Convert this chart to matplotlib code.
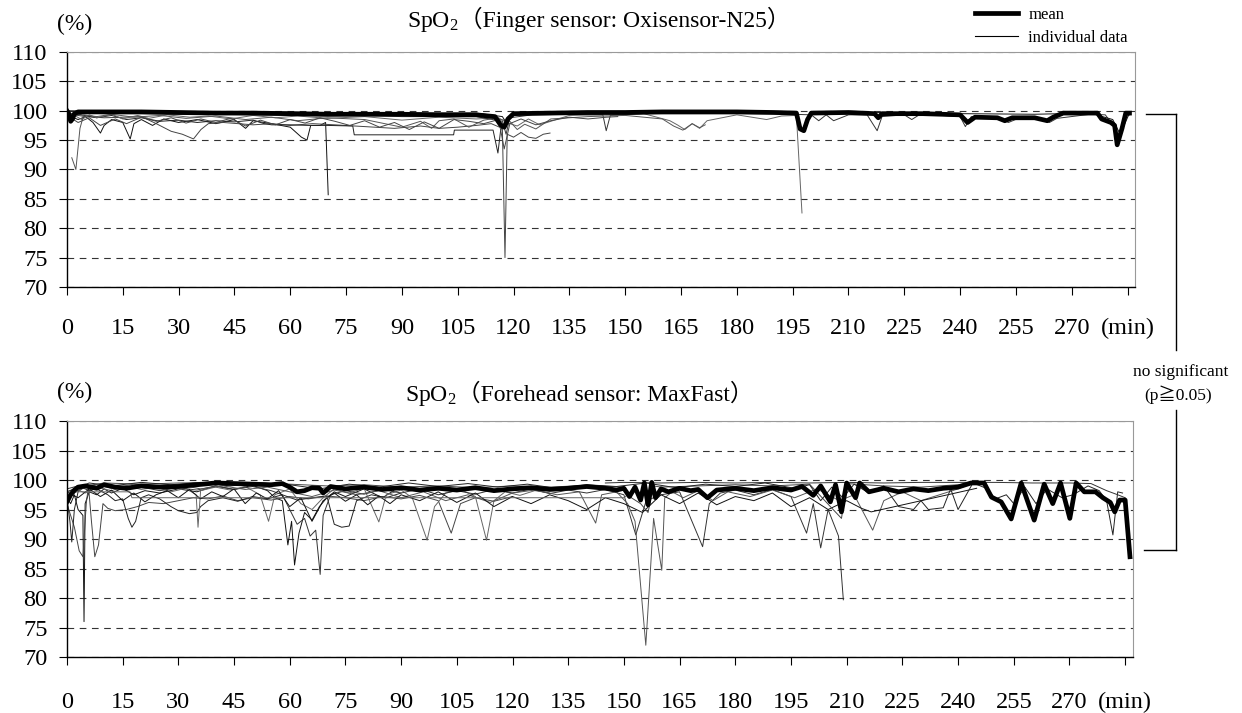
import matplotlib
matplotlib.use("Agg")
import matplotlib.pyplot as plt
from matplotlib.lines import Line2D

plt.rcParams['font.family'] = ['Liberation Serif', 'Noto Sans CJK JP']
plt.rcParams['mathtext.fontset'] = 'custom'
plt.rcParams['mathtext.rm'] = 'Liberation Serif'
plt.rcParams['mathtext.it'] = 'Liberation Serif:italic'

# ---------------- Finger sensor (Oxisensor-N25) ----------------
fin_mean_t = [0, 0.5, 1, 1.5, 2, 3, 5, 10, 20, 30,
              40, 50, 60, 70, 80, 90, 100, 110, 115, 116.5,
              117.5, 118.5, 120, 130, 140, 150, 160, 170, 180, 190,
              196, 197, 198, 199, 200, 210, 217, 218, 219, 230,
              240, 242, 244, 250, 252, 254, 260, 263.4, 265, 267.7,
              272, 276.9, 278, 280.5, 281.5, 282.2, 283.5, 284.5, 285.5]
fin_mean_v = [100, 99.5, 98.2, 98.6, 99.5, 99.8, 99.8, 99.8, 99.8, 99.7,
              99.6, 99.6, 99.5, 99.4, 99.4, 99.4, 99.3, 99.3, 99.0, 97.6,
              97.2, 98.6, 99.5, 99.6, 99.7, 99.7, 99.8, 99.8, 99.8, 99.7,
              99.6, 96.9, 96.6, 98.5, 99.6, 99.7, 99.5, 98.8, 99.5, 99.5,
              99.3, 98.0, 98.9, 98.8, 98.3, 98.8, 98.8, 98.3, 98.9, 99.6,
              99.6, 99.6, 98.6, 98.0, 97.5, 94.2, 97.0, 99.6, 99.6]

fin_t1 = [0, 1, 3, 5, 7, 9, 10, 12, 15, 17, 18, 20, 23, 26, 30, 35, 40, 45, 48, 50,
          55, 60, 63, 64.5, 65.5, 68, 69.5, 70.2]
fin_v1 = [99.5, 99.0, 98.5, 99.0, 98.0, 96.2, 97.5, 98.5, 98.0, 95.2, 97.8, 98.5, 97.5, 98.6,
          98.0, 98.5, 97.8, 98.5, 97.0, 98.3, 97.8, 97.2, 95.5, 95.0, 97.5, 97.5, 98.0, 85.7]

fin_t2 = [0, 2, 5, 10, 15, 20, 24, 28, 31, 34, 36, 38, 42, 46, 50, 55, 60, 66, 72, 80,
          88, 95, 100, 105, 110, 114, 117, 117.7, 118.3, 120, 122, 124, 126, 128, 129.8]
fin_v2 = [99.5, 99.3, 99.0, 98.8, 98.9, 99.0, 97.8, 96.5, 96.0, 95.2, 96.8, 97.8, 98.0, 97.8,
          97.6, 97.8, 97.5, 97.8, 97.6, 97.3, 97.0, 97.4, 97.0, 97.2, 97.5, 97.8, 97.0, 75.0,
          96.0, 95.5, 96.3, 95.5, 95.3, 96.0, 96.2]

fin_t3 = [0, 3, 8, 12, 16, 20, 25, 30, 35, 40, 45, 50, 53, 55, 60, 65, 70, 76.8, 77.2, 85,
          95, 103.9, 104.1, 114.5, 115.8, 116.5, 117]
fin_v3 = [99.6, 99.4, 98.8, 99.2, 98.5, 98.8, 98.2, 98.4, 98.0, 98.3, 98.1, 98.4, 97.8, 97.6,
          97.6, 97.5, 97.5, 97.4, 95.9, 95.9, 95.9, 95.9, 96.7, 96.7, 92.8, 96.5, 97.5]

fin_t4 = [0, 2, 4, 6, 8, 12, 15, 19, 22, 27, 33, 38, 44, 50, 56, 62, 70, 80, 90, 100,
          110, 116, 118, 121, 124, 127, 135, 145, 155, 162, 164, 166, 168, 170, 172, 180,
          188, 192, 196, 197.5]
fin_v4 = [99.8, 99.2, 98.5, 99.3, 98.8, 99.4, 98.6, 99.2, 98.7, 99.3, 98.9, 99.1, 98.6, 99.2,
          98.8, 99.1, 98.7, 99.0, 98.4, 98.9, 98.6, 98.8, 98.0, 97.4, 98.6, 97.6, 99.2, 99.3,
          99.5, 98.3, 97.6, 96.8, 97.8, 97.0, 98.3, 99.3, 98.5, 99.1, 99.2, 82.6]

fin_t5 = [0, 1, 2, 5, 10, 20, 30, 40, 50, 60, 70, 80, 90, 100, 110, 117, 118, 119, 125, 135,
          144, 144.9, 146, 155, 170, 180, 190, 200, 202, 204, 206, 210, 215, 217.7, 219, 225,
          227, 229, 235, 240, 241.4, 243, 250, 253, 256, 262, 264, 266, 275, 279, 281, 282.5,
          284, 285.5]
fin_v5 = [99.7, 98.0, 99.2, 99.6, 99.5, 99.5, 99.4, 99.4, 99.3, 99.2, 99.1, 99.2, 99.0, 99.0,
          99.0, 98.2, 96.0, 98.8, 99.3, 99.4, 99.3, 96.6, 99.2, 99.5, 99.5, 99.5, 99.5, 99.3,
          98.3, 99.3, 98.3, 99.3, 99.3, 96.6, 99.0, 99.3, 98.5, 99.3, 99.2, 99.0, 97.3, 99.0,
          98.8, 98.0, 98.8, 98.6, 98.0, 98.7, 99.4, 99.3, 97.6, 95.5, 98.8, 99.3]

fin_t6 = [1.3, 2.4, 3.5, 4.5, 8, 12, 18, 25, 32, 40, 48, 55, 62, 70, 80, 90, 95, 98, 100, 104,
          108, 112, 115, 119, 121, 123, 126, 130, 140, 150, 160, 163, 165.5, 168, 170, 171.5]
fin_v6 = [92.0, 90.0, 97.0, 99.3, 99.0, 99.4, 98.9, 99.2, 98.7, 99.1, 98.5, 98.9, 98.3, 98.8,
          98.5, 97.2, 98.2, 97.0, 98.3, 98.6, 97.2, 98.4, 98.7, 98.2, 96.8, 97.7, 96.9, 98.6,
          99.0, 99.2, 98.6, 97.4, 96.7, 97.8, 97.1, 97.6]

fin_t7 = [0, 10, 30, 50, 70, 90, 110, 117, 118, 120, 140, 160, 180, 196, 197, 198, 200, 220,
          240, 260, 275, 281, 283, 285.5]
fin_v7 = [100, 99.9, 99.8, 99.8, 99.7, 99.6, 99.6, 99.0, 98.0, 99.6, 99.7, 99.8, 99.7, 99.6,
          97.5, 96.4, 99.6, 99.7, 99.5, 99.4, 99.6, 98.5, 96.0, 99.6]

fin_t8 = [0, 3, 6, 9, 13, 16, 20, 24, 28, 32, 36, 40, 44, 48, 52, 56, 60, 64, 68, 72,
          76, 80, 84, 88, 92, 96, 100, 104, 108, 112, 116, 117.5, 119, 122, 126, 130, 135,
          140, 145, 148]
fin_v8 = [99.2, 98.0, 98.8, 97.5, 98.6, 97.8, 98.9, 98.2, 98.8, 97.9, 98.6, 98.0, 98.7, 97.4,
          98.4, 97.6, 98.5, 97.9, 98.8, 98.2, 97.5, 98.3, 97.2, 98.0, 96.8, 98.1, 97.0, 98.5,
          98.2, 97.8, 98.5, 93.5, 97.8, 98.6, 97.6, 98.3, 98.9, 98.6, 98.9, 99.0]

# ---------------- Forehead sensor (MaxFast) ----------------
fh_mean_t = [0, 1, 2, 3, 5, 8, 10, 13, 16, 20,
             25, 30, 35, 40, 45, 50, 55, 58, 60, 62,
             64, 66, 68, 69, 71, 75, 80, 85, 90, 95,
             100, 105, 110, 115, 120, 125, 130, 135, 140, 145,
             148, 150, 151.5, 153, 154.5, 155.5, 156.5, 157.5, 158.5, 160,
             162, 165, 168, 170, 172.5, 175, 180, 185, 190, 195,
             198, 201, 203, 205.6, 207, 208.6, 210, 212.4, 213.5, 216,
             220, 224, 228, 232, 236, 240, 243.5, 247, 249, 251.6,
             254.3, 257, 260.5, 263.2, 265.5, 267.6, 270.1, 271.8, 274, 277,
             279, 281, 282.2, 283.5, 285, 286.3]
fh_mean_v = [96.3, 97.5, 98.3, 98.8, 99.0, 98.6, 99.2, 98.8, 98.6, 99.0,
             98.8, 98.9, 99.2, 99.5, 99.4, 99.3, 99.2, 99.4, 98.8, 98.0,
             98.2, 98.7, 98.6, 97.8, 98.9, 98.5, 98.8, 98.4, 98.7, 98.3,
             98.6, 98.3, 98.7, 98.2, 98.5, 98.7, 98.4, 98.6, 98.9, 98.6,
             98.3, 98.6, 97.2, 98.8, 96.6, 99.5, 95.8, 99.6, 97.0, 98.5,
             98.0, 98.6, 98.2, 98.4, 97.0, 98.3, 98.6, 98.2, 98.7, 98.3,
             98.9, 97.4, 99.0, 96.3, 99.2, 94.6, 99.5, 97.0, 99.5, 98.0,
             98.6, 98.0, 98.5, 98.2, 98.6, 98.8, 99.5, 99.5, 97.1, 96.3,
             93.4, 99.5, 93.2, 99.3, 96.0, 99.5, 93.5, 99.5, 98.0, 98.0,
             97.0, 96.2, 94.6, 96.6, 96.6, 87.0]

fh_t1 = [0, 1, 2, 3, 4.3, 4.6, 4.9, 6, 8, 10, 12, 15, 18, 21, 25, 30, 35, 40, 45, 50,
         54, 56, 58, 59.5, 60.5, 61.3, 62.5, 64, 66, 68, 70, 72, 75, 80, 85, 88]
fh_v1 = [97, 96, 97.5, 95, 94, 76, 96, 98, 97.5, 98.5, 97.8, 98.6, 97.5, 98.2, 97.8, 98.5,
         98, 99, 98.4, 99.1, 98.2, 97, 96.5, 89, 93, 85.6, 91, 94.5, 93.2, 95.5, 97.0, 98.0,
         97.2, 98.5, 97.0, 98.2]

fh_t2 = [0, 1, 2, 3.3, 4.3, 5.2, 5.8, 6.6, 7.5, 8.5, 9.7, 11, 13, 16, 19, 22, 26, 30, 34, 38,
         42, 46, 50, 55, 60, 65, 70, 75, 80, 85, 90, 95, 100, 103.5, 106, 110, 115, 120]
fh_v2 = [96, 94, 92, 88, 87, 96, 99, 93, 87, 89, 96, 95.2, 94.8, 95.0, 95.5, 96.2, 96.0, 96.5,
         97.0, 96.8, 97.3, 96.5, 97.0, 96.6, 97.2, 96.8, 97.3, 97.0, 96.5, 97.2, 96.8, 97.4,
         96.5, 91, 96.0, 97.0, 96.4, 97.2]

fh_t3 = [0, 0.8, 1.3, 2, 3, 5, 8, 11, 13, 15, 16.5, 17.5, 18.5, 20, 22, 25, 28, 30, 33, 35,
         36, 38, 42, 46, 50, 54, 58, 62, 66, 70, 72, 74, 76, 78, 82, 86, 90]
fh_v3 = [97, 93, 89.5, 95, 98, 99, 98.5, 97.5, 96.5, 96.8, 93.5, 92, 93, 97, 97.5, 96.8, 95.5,
         94.8, 94.3, 94.5, 95.5, 96.5, 97.0, 96.4, 97.2, 96.8, 97.5, 96.6, 97.0, 97.3, 92.5,
         92.0, 92.2, 96.5, 97.5, 97.0, 97.8]

fh_t4 = [0, 2, 5, 8, 12, 16, 20, 24, 28, 32, 34.8, 35.3, 36, 40, 44, 48, 52, 54.3, 56, 60,
         63, 66, 69, 72, 76, 80, 84, 86, 90, 93, 97, 99, 102, 106, 110, 113, 115, 118, 122,
         126, 130]
fh_v4 = [98, 98.5, 97.8, 98.8, 98.2, 99.0, 98.4, 98.8, 98.0, 98.6, 97.5, 92, 98.2, 98.8, 98.3,
         98.9, 97.5, 93, 97.5, 98.5, 96.0, 95.0, 97.0, 98.5, 97.8, 98.6, 92.9, 97.5, 98.3,
         97.0, 89.8, 95.5, 97.8, 98.4, 97.2, 89.8, 96.5, 98.0, 97.4, 98.2, 97.8]

fh_t5 = [0, 3, 6, 10, 15, 20, 25, 30, 35, 40, 45, 50, 55, 58, 60, 62, 64, 65.5, 67, 68.2,
         69, 71, 75, 80, 85, 90, 95, 100, 105, 110, 115, 120, 125, 130, 135, 140, 145, 150,
         153.2, 156, 160, 165, 171.2, 173, 176, 180, 185, 190, 195, 199.2, 201, 203, 205,
         207.8, 209.1]
fh_v5 = [98.5, 99, 98.2, 99, 98.5, 98.8, 98.2, 98.7, 98.3, 99.0, 98.4, 98.9, 98.2, 97.5, 95.0,
         92.5, 93.5, 90.5, 91.5, 84, 94, 97.5, 98.2, 97.6, 98.4, 97.8, 98.5, 97.5, 98.2, 97.6,
         98.4, 97.8, 98.5, 97.7, 98.3, 97.8, 98.4, 97.5, 90.7, 96.5, 97.5, 98.0, 88.7, 96.0,
         97.8, 98.3, 97.5, 98.4, 97.2, 91.0, 96.0, 88.5, 95.0, 90.5, 79.7]

fh_t6 = [0, 4, 8, 12, 18, 24, 30, 36, 42, 48, 54, 60, 66, 72, 78, 84, 90, 96, 102, 108,
         114, 120, 126, 132, 138, 142.4, 144, 148, 151, 153, 155.9, 158, 160.2, 161, 163,
         166, 170, 174, 178, 184, 190, 196, 202, 208, 212, 217, 220, 225, 230, 235, 240, 244]
fh_v6 = [97.5, 98.5, 99.2, 98.6, 99.3, 98.8, 99.2, 98.5, 99.0, 98.4, 98.8, 98.0, 97.2, 98.3,
         97.5, 98.2, 97.0, 98.0, 96.5, 97.5, 96.2, 97.8, 98.3, 97.5, 98.0, 92.7, 97.5, 98.0,
         96.0, 93.0, 72.0, 93.5, 84.7, 97.0, 98.0, 97.0, 98.2, 96.5, 98.0, 97.2, 98.3, 97.0,
         98.5, 96.5, 97.5, 91.5, 96.5, 98.0, 96.5, 97.5, 98.5, 99.5]

fh_t7 = [0, 3, 6, 9, 12, 15, 18, 21, 24, 27, 30, 33, 36, 39, 42, 45, 48, 51, 54, 57,
         60, 63, 66, 69, 72, 75, 78, 81, 84, 87, 90, 95, 100, 105, 110, 115, 120, 125, 130,
         135, 140, 145, 150, 155, 160, 165, 170, 175, 180, 185, 190, 195, 200, 205, 210, 214,
         216.6, 245]
fh_v7 = [98.0, 97.0, 98.5, 97.2, 98.3, 96.5, 97.8, 96.3, 97.5, 98.2, 97.0, 98.4, 96.8, 98.0,
         97.2, 98.5, 96.0, 97.8, 96.8, 98.2, 95.5, 97.0, 93.0, 96.5, 97.8, 96.4, 97.5, 95.8,
         97.3, 96.0, 97.5, 96.5, 98.0, 96.2, 97.8, 95.5, 97.2, 96.0, 97.5, 96.5, 95.0, 97.0,
         96.0, 94.5, 97.5, 96.0, 97.8, 95.8, 97.2, 96.5, 97.8, 95.5, 97.0, 95.0, 96.5, 95.2,
         94.6, 98.6]

fh_t8 = [0, 5, 10, 20, 30, 40, 50, 60, 70, 80, 90, 100, 110, 120, 130, 140, 150, 152, 154.5,
         156.5, 158, 160, 170, 180, 190, 200, 205.6, 208.6, 210, 220, 230, 240, 243.5, 247,
         249, 251.6, 254.3, 257, 260.5, 263.2, 265.5, 267.6, 270.1, 271.8, 274, 277, 279, 281,
         282.2, 283.5, 285, 286.3]
fh_v8 = [97.0, 99.0, 99.5, 99.3, 99.5, 99.6, 99.5, 99.3, 99.0, 99.2, 98.8, 99.0, 98.7, 99.0,
         98.8, 99.1, 98.8, 97.0, 96.0, 94.5, 99.0, 98.8, 99.0, 99.2, 99.0, 99.3, 95.5, 93.5,
         99.4, 99.0, 98.8, 99.2, 99.6, 99.6, 97.3, 96.5, 93.6, 99.6, 93.4, 99.4, 96.2, 99.6,
         93.7, 99.6, 98.2, 98.0, 97.2, 96.4, 94.8, 96.8, 96.8, 87.2]

fh_t9 = [0, 6, 12, 20, 28, 36, 44, 52, 60, 68, 76, 84, 92, 100, 108, 116, 124, 132, 140,
         148, 156, 164, 172, 180, 188, 196, 200, 203, 206, 209, 212, 216, 220, 224, 228, 230,
         232, 236, 238, 240, 244, 248, 250, 253, 255, 258, 261, 264, 268, 271, 275, 278, 280,
         281.7, 283, 284.3]
fh_v9 = [98.0, 99.5, 99.0, 99.6, 99.2, 99.6, 99.0, 99.5, 99.2, 98.5, 99.3, 98.8, 99.5, 98.9,
         99.4, 98.8, 99.3, 98.6, 99.2, 98.9, 99.5, 98.7, 99.3, 98.9, 99.5, 98.6, 99.2, 96.5,
         98.8, 97.0, 99.3, 97.8, 99.0, 95.5, 95.0, 96.5, 95.0, 95.3, 98.5, 95.0, 99.5, 98.5,
         96.8, 97.5, 96.0, 98.8, 96.0, 98.5, 97.0, 97.5, 99.0, 98.2, 96.5, 90.7, 98.0, 97.8]

fh_t10 = [0, 17, 17.5, 150, 151]
fh_v10 = [98.0, 98.0, 97.0, 97.0, 97.5]

fh_t11 = [145, 150, 160, 170, 180, 190, 200, 210, 220, 230, 240, 250, 260, 270, 275.8, 280,
          283, 285]
fh_v11 = [99.5, 99.6, 99.5, 99.6, 99.5, 99.6, 99.5, 99.6, 99.5, 99.6, 99.6, 99.6, 99.5, 99.5,
          99.4, 98.2, 97.5, 97.0]

# axis ticks
xtick_pos = [0, 15, 30, 45, 60, 75, 90, 105, 120, 135, 150, 165, 180, 195, 210, 225, 240,
             255, 270, 285]
xtick_labels = ['0', '15', '30', '45', '60', '75', '90', '105', '120', '135', '150', '165',
                '180', '195', '210', '225', '240', '255', '270', '(min)']
ytick_pos = [70, 75, 80, 85, 90, 95, 100, 105, 110]

fin_subjects = [(fin_t1, fin_v1), (fin_t2, fin_v2), (fin_t3, fin_v3), (fin_t4, fin_v4),
                (fin_t5, fin_v5), (fin_t6, fin_v6), (fin_t7, fin_v7), (fin_t8, fin_v8)]
fh_subjects = [(fh_t1, fh_v1), (fh_t2, fh_v2), (fh_t3, fh_v3), (fh_t4, fh_v4),
               (fh_t5, fh_v5), (fh_t6, fh_v6), (fh_t7, fh_v7), (fh_t8, fh_v8),
               (fh_t9, fh_v9), (fh_t10, fh_v10), (fh_t11, fh_v11)]
line_greys = ['#111111', '#444444', '#222222', '#666666', '#333333', '#555555']

fig = plt.figure(figsize=(12.42, 7.13), dpi=100)
ax1 = fig.add_axes([0.0539, 0.5975, 0.8600, 0.3296])
ax2 = fig.add_axes([0.0539, 0.0785, 0.8580, 0.3310])


def draw_panel(ax, subjects, mean_t, mean_v, xpad):
    for i, (t, v) in enumerate(subjects):
        ax.plot(t, v, color=line_greys[i % len(line_greys)], lw=0.7, zorder=2)
    mean, = ax.plot(mean_t, mean_v, color='black', lw=3.4, zorder=3,
                    solid_joinstyle='round')
    ax.set_xlim(0, 287)
    ax.set_ylim(70, 110)
    ax.set_xticks(xtick_pos)
    ax.set_xticklabels(xtick_labels)
    ax.set_yticks(ytick_pos)
    ax.grid(axis='y', color='#333333', lw=0.8, ls=(0, (6, 5)), zorder=0)
    ax.tick_params(axis='x', direction='out', length=6, width=0.8, labelsize=17.5, pad=xpad)
    ax.tick_params(axis='y', direction='out', length=6, width=0.8, labelsize=17.5, pad=8)
    for side in ['top', 'right']:
        ax.spines[side].set_color('#999999')
        ax.spines[side].set_linewidth(0.8)
    for side in ['left', 'bottom']:
        ax.spines[side].set_color('black')
        ax.spines[side].set_linewidth(1.0)
    return mean


mean_h = draw_panel(ax1, fin_subjects, fin_mean_t, fin_mean_v, 16)
draw_panel(ax2, fh_subjects, fh_mean_t, fh_mean_v, 19)

# titles: "SpO2" with a real subscript, then the bracketed part right after it
t_top = fig.text(407 / 1242, 1 - 27 / 713, r'SpO$_\mathrm{2}$', ha='left', va='baseline',
                 fontsize=17)
t_bot = fig.text(405 / 1242, 1 - 401 / 713, r'SpO$_\mathrm{2}$', ha='left', va='baseline',
                 fontsize=17)
fig.canvas.draw()
x_top = t_top.get_window_extent().x1 / fig.bbox.width
x_bot = t_bot.get_window_extent().x1 / fig.bbox.width
fig.text(x_top, 1 - 27 / 713, '（Finger sensor: Oxisensor-N25）', ha='left', va='baseline',
         fontsize=17)
fig.text(x_bot, 1 - 401 / 713, '（Forehead sensor: MaxFast）', ha='left', va='baseline',
         fontsize=17)

fig.text(0.0604, 0.966, '(%)', ha='center', va='center', fontsize=17)
fig.text(0.0604, 0.449, '(%)', ha='center', va='center', fontsize=17)

# legend
ind_handle = Line2D([], [], color='black', lw=0.8)
fig.legend(handles=[mean_h, ind_handle], labels=['mean', 'individual data'],
           loc='upper left', bbox_to_anchor=(975 / 1242, 1 - 7 / 713), frameon=False,
           fontsize=12, handlelength=2.6, handletextpad=0.6, labelspacing=0.4,
           borderpad=0, borderaxespad=0)

# significance bracket
bx = 1176 / 1242
fig.add_artist(Line2D([1146 / 1242, bx], [1 - 114 / 713, 1 - 114 / 713],
                      transform=fig.transFigure, color='black', lw=1))
fig.add_artist(Line2D([bx, bx], [1 - 114 / 713, 1 - 350 / 713],
                      transform=fig.transFigure, color='black', lw=1))
fig.add_artist(Line2D([bx, bx], [1 - 410 / 713, 1 - 550 / 713],
                      transform=fig.transFigure, color='black', lw=1))
fig.add_artist(Line2D([1144 / 1242, bx], [1 - 550 / 713, 1 - 550 / 713],
                      transform=fig.transFigure, color='black', lw=1))
fig.text(1181 / 1242, 1 - 372 / 713, 'no significant', ha='center', va='center',
         fontsize=12.5)
fig.text(1178 / 1242, 1 - 395 / 713, '(p≧0.05)', ha='center', va='center', fontsize=12.5)

fig.savefig('out.png', dpi=100)
